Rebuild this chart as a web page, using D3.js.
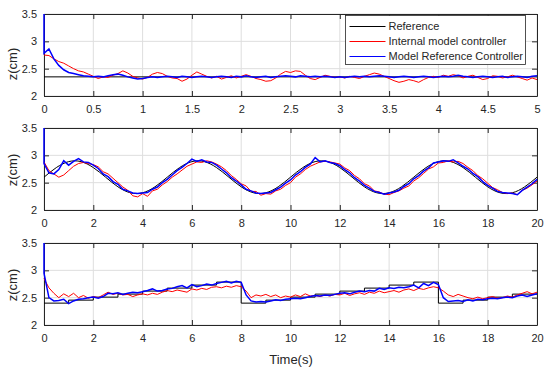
<!DOCTYPE html>
<html>
<head>
<meta charset="utf-8">
<script src="https://cdn.jsdelivr.net/npm/d3@7"></script>
<style>
body { margin: 0; background: #fff; }
text { font-family: "Liberation Sans", Arial, sans-serif; }
</style>
</head>
<body>
<div class="chart"></div>
<script>
// tick values
var xTicksTop = [0, 0.5, 1, 1.5, 2, 2.5, 3, 3.5, 4, 4.5, 5];
var xTicksLong = [0, 2, 4, 6, 8, 10, 12, 14, 16, 18, 20];
var yTicks = [2, 2.5, 3, 3.5];

var seriesNames = [`Reference`, `Internal model controller`, `Model Reference Controller`];

// first sample of the blue controller (initial spike at t=0)
var blueSpike = 3.5;

// panel 1: constant reference, 0..5 s, sampled every 0.05 s
var refTopT = [0, 5];
var refTopV = [2.35, 2.35];
var redTop = [
    2.75, 2.74, 2.68, 2.63, 2.60, 2.55, 2.50, 2.46, 2.44, 2.40,
    2.36, 2.32, 2.35, 2.34, 2.38, 2.41, 2.46, 2.42, 2.36, 2.33,
    2.31, 2.34, 2.40, 2.43, 2.41, 2.36, 2.33, 2.32, 2.27, 2.31,
    2.38, 2.44, 2.40, 2.36, 2.33, 2.36, 2.31, 2.34, 2.37, 2.33,
    2.36, 2.39, 2.36, 2.32, 2.30, 2.27, 2.28, 2.33, 2.40, 2.45,
    2.43, 2.46, 2.45, 2.38, 2.32, 2.30, 2.34, 2.38, 2.36, 2.34,
    2.35, 2.33, 2.36, 2.34, 2.32, 2.36, 2.39, 2.42, 2.40, 2.36,
    2.32, 2.28, 2.25, 2.27, 2.30, 2.28, 2.25, 2.30, 2.34, 2.36,
    2.34, 2.38, 2.36, 2.39, 2.37, 2.33, 2.36, 2.38, 2.34, 2.30,
    2.32, 2.37, 2.36, 2.33, 2.35, 2.38, 2.35, 2.32, 2.29, 2.33,
    2.30];
var blueTop = [
    2.78, 2.86, 2.68, 2.56, 2.48, 2.43, 2.41, 2.39, 2.37, 2.36,
    2.35, 2.36, 2.35, 2.37, 2.39, 2.40, 2.38, 2.35, 2.33, 2.31,
    2.32, 2.34, 2.35, 2.34, 2.35, 2.36, 2.35, 2.34, 2.36, 2.35,
    2.34, 2.35, 2.36, 2.35, 2.34, 2.35, 2.36, 2.35, 2.34, 2.36,
    2.35, 2.37, 2.35, 2.34, 2.35, 2.36, 2.34, 2.35, 2.36, 2.37,
    2.36, 2.35, 2.37, 2.36, 2.35, 2.36, 2.35, 2.36, 2.35, 2.34,
    2.35, 2.34, 2.35, 2.36, 2.35, 2.36, 2.35, 2.36, 2.37, 2.36,
    2.35, 2.34, 2.35, 2.36, 2.35, 2.34, 2.35, 2.36, 2.35, 2.34,
    2.35, 2.36, 2.35, 2.36, 2.38, 2.36, 2.35, 2.34, 2.35, 2.36,
    2.35, 2.34, 2.35, 2.36, 2.34, 2.35, 2.36, 2.35, 2.34, 2.36,
    2.37];

// panel 2: sinusoidal reference every 0.5 s, responses every 0.2 s
var refMidV = [
    2.600, 2.776, 2.885, 2.885, 2.776, 2.600, 2.424, 2.315, 2.315, 2.424,
    2.600, 2.776, 2.885, 2.885, 2.776, 2.600, 2.424, 2.315, 2.315, 2.424,
    2.600, 2.776, 2.885, 2.885, 2.776, 2.600, 2.424, 2.315, 2.315, 2.424,
    2.600, 2.776, 2.885, 2.885, 2.776, 2.600, 2.424, 2.315, 2.315, 2.424,
    2.600];
var redMid = [
    2.88, 2.72, 2.66, 2.60, 2.64, 2.72, 2.80, 2.85, 2.87, 2.85,
    2.83, 2.79, 2.70, 2.66, 2.58, 2.50, 2.42, 2.36, 2.26, 2.24,
    2.30, 2.25, 2.35, 2.38, 2.46, 2.52, 2.60, 2.66, 2.73, 2.80,
    2.84, 2.88, 2.87, 2.90, 2.88, 2.84, 2.79, 2.72, 2.63, 2.56,
    2.48, 2.44, 2.34, 2.34, 2.27, 2.30, 2.29, 2.35, 2.38, 2.45,
    2.50, 2.60, 2.66, 2.74, 2.80, 2.84, 2.88, 2.89, 2.88, 2.86,
    2.84, 2.77, 2.72, 2.63, 2.57, 2.48, 2.44, 2.35, 2.33, 2.29,
    2.28, 2.32, 2.35, 2.40, 2.44, 2.53, 2.59, 2.67, 2.75, 2.79,
    2.86, 2.87, 2.90, 2.88, 2.89, 2.85, 2.78, 2.72, 2.63, 2.57,
    2.49, 2.41, 2.37, 2.32, 2.30, 2.31, 2.28, 2.36, 2.40, 2.46,
    2.53];
var blueMid = [
    2.85, 2.68, 2.66, 2.74, 2.90, 2.82, 2.89, 2.94, 2.88, 2.87,
    2.82, 2.76, 2.66, 2.61, 2.52, 2.47, 2.38, 2.35, 2.31, 2.30,
    2.31, 2.32, 2.38, 2.42, 2.50, 2.56, 2.64, 2.72, 2.78, 2.85,
    2.93, 2.89, 2.92, 2.88, 2.87, 2.82, 2.75, 2.68, 2.59, 2.53,
    2.46, 2.38, 2.35, 2.31, 2.30, 2.31, 2.32, 2.37, 2.42, 2.49,
    2.55, 2.64, 2.70, 2.78, 2.84, 2.96, 2.88, 2.90, 2.87, 2.85,
    2.81, 2.74, 2.68, 2.59, 2.53, 2.45, 2.40, 2.34, 2.32, 2.29,
    2.31, 2.33, 2.36, 2.43, 2.48, 2.57, 2.63, 2.71, 2.77, 2.86,
    2.88, 2.90, 2.89, 2.92, 2.86, 2.80, 2.75, 2.67, 2.61, 2.52,
    2.45, 2.40, 2.34, 2.32, 2.31, 2.30, 2.28, 2.36, 2.42, 2.48,
    2.56];

// panel 3: staircase reference, responses every 0.2 s
var refBotT = [0, 1, 2, 3, 4, 5, 6, 7, 8, 9, 10, 11, 12, 13, 14, 15, 16, 17, 18, 19, 20];
var refBotV = [2.4, 2.455, 2.51, 2.565, 2.62, 2.675, 2.73, 2.785,
    2.4, 2.455, 2.51, 2.565, 2.62, 2.675, 2.73, 2.785,
    2.4, 2.455, 2.51, 2.565, 2.565];
var redBot = [
    2.85, 2.68, 2.58, 2.50, 2.57, 2.52, 2.58, 2.50, 2.54, 2.49,
    2.52, 2.50, 2.55, 2.60, 2.56, 2.58, 2.55, 2.56, 2.52, 2.55,
    2.57, 2.55, 2.58, 2.56, 2.60, 2.63, 2.61, 2.64, 2.62, 2.60,
    2.66, 2.64, 2.67, 2.65, 2.69, 2.70, 2.68, 2.71, 2.69, 2.72,
    2.70, 2.62, 2.50, 2.55, 2.53, 2.56, 2.52, 2.55, 2.50, 2.53,
    2.51, 2.55, 2.52, 2.57, 2.53, 2.54, 2.52, 2.55, 2.53, 2.56,
    2.55, 2.58, 2.54, 2.57, 2.59, 2.56, 2.60, 2.58, 2.62, 2.59,
    2.61, 2.63, 2.60, 2.64, 2.66, 2.63, 2.67, 2.65, 2.68, 2.70,
    2.68, 2.62, 2.55, 2.52, 2.56, 2.53, 2.50, 2.48, 2.51, 2.48,
    2.50, 2.52, 2.49, 2.50, 2.53, 2.51, 2.55, 2.58, 2.61, 2.57,
    2.60];
var blueBot = [
    2.95, 2.50, 2.44, 2.45, 2.47, 2.39, 2.44, 2.47, 2.48, 2.50,
    2.51, 2.49, 2.52, 2.58, 2.57, 2.59, 2.56, 2.58, 2.60, 2.59,
    2.61, 2.63, 2.66, 2.62, 2.63, 2.66, 2.67, 2.70, 2.72, 2.68,
    2.74, 2.70, 2.72, 2.75, 2.73, 2.76, 2.78, 2.80, 2.77, 2.80,
    2.78, 2.55, 2.44, 2.42, 2.43, 2.42, 2.44, 2.46, 2.45, 2.47,
    2.48, 2.49, 2.48, 2.50, 2.52, 2.54, 2.53, 2.55, 2.54, 2.56,
    2.58, 2.59, 2.57, 2.60, 2.62, 2.61, 2.63, 2.62, 2.67, 2.65,
    2.68, 2.67, 2.69, 2.68, 2.70, 2.73, 2.68, 2.76, 2.72, 2.78,
    2.74, 2.50, 2.43, 2.44, 2.45, 2.43, 2.46, 2.44, 2.47, 2.46,
    2.48, 2.49, 2.48, 2.50, 2.51, 2.50, 2.53, 2.55, 2.52, 2.55,
    2.57];

var width = 550, height = 369;
var plotLeft = 44, plotW = 493, plotH = 82;
var ink = `#262626`;

var svg = d3.select(`.chart`)
    .append(`svg`)
    .attr(`width`, width)
    .attr(`height`, height);

var panels = [
    {top: 14, xMax: 5, xTicks: xTicksTop, dt: 0.05, red: redTop, blue: blueTop,
        ref: refTopT.map((t, i) => [t, refTopV[i]]), curve: d3.curveLinear, labelY: 64},
    {top: 128, xMax: 20, xTicks: xTicksLong, dt: 0.2, red: redMid, blue: blueMid,
        ref: refMidV.map((v, i) => [i * 0.5, v]), curve: d3.curveNatural, labelY: 170},
    {top: 243, xMax: 20, xTicks: xTicksLong, dt: 0.2, red: redBot, blue: blueBot,
        ref: refBotT.map((t, i) => [t, refBotV[i]]), curve: d3.curveStepAfter, labelY: 285}
];

var fmt = d3.format(`~g`);

panels.forEach(function(p, k) {
    var x = d3.scaleLinear().domain([0, p.xMax]).range([0, plotW]);
    var y = d3.scaleLinear().domain([2, 3.5]).range([plotH, 0]);

    var g = svg.append(`g`)
        .attr(`transform`, `translate(${plotLeft},${p.top})`);

    g.append(`clipPath`)
        .attr(`id`, `clip${k}`)
        .append(`rect`)
        .attr(`x`, -1).attr(`y`, -1)
        .attr(`width`, plotW + 2)
        .attr(`height`, plotH + 2);

    // grid
    g.selectAll(`.gx`)
        .data(p.xTicks)
        .enter().append(`line`)
        .attr(`x1`, d => x(d)).attr(`x2`, d => x(d))
        .attr(`y1`, 0).attr(`y2`, plotH)
        .attr(`stroke`, `#dedede`);
    g.selectAll(`.gy`)
        .data(yTicks)
        .enter().append(`line`)
        .attr(`x1`, 0).attr(`x2`, plotW)
        .attr(`y1`, d => y(d)).attr(`y2`, d => y(d))
        .attr(`stroke`, `#dedede`);

    // axes, ticks pointing inward on all four sides
    var axes = [
        g.append(`g`).attr(`transform`, `translate(0,${plotH})`)
            .call(d3.axisBottom(x).tickValues(p.xTicks).tickFormat(fmt).tickSizeInner(-5).tickSizeOuter(0).tickPadding(9)),
        g.append(`g`)
            .call(d3.axisLeft(y).tickValues(yTicks).tickFormat(fmt).tickSizeInner(-5).tickSizeOuter(0).tickPadding(7)),
        g.append(`g`)
            .call(d3.axisTop(x).tickValues(p.xTicks).tickFormat(``).tickSizeInner(-5).tickSizeOuter(0)),
        g.append(`g`).attr(`transform`, `translate(${plotW},0)`)
            .call(d3.axisRight(y).tickValues(yTicks).tickFormat(``).tickSizeInner(-5).tickSizeOuter(0))
    ];
    axes.forEach(function(a) {
        a.attr(`font-size`, 11).attr(`font-family`, `"Liberation Sans", Arial, sans-serif`);
        a.selectAll(`path, line`).attr(`stroke`, ink);
        a.selectAll(`text`).attr(`fill`, ink);
    });

    var line = d3.line()
        .x(d => x(d[0]))
        .y(d => y(d[1]));

    var lines = g.append(`g`).attr(`clip-path`, `url(#clip${k})`);

    lines.append(`path`)
        .datum(p.ref)
        .attr(`d`, line.curve(p.curve))
        .attr(`fill`, `none`)
        .attr(`stroke`, `#000`)
        .attr(`stroke-width`, 1);

    line.curve(d3.curveLinear);

    lines.append(`path`)
        .datum(p.red.map((v, i) => [i * p.dt, v]))
        .attr(`d`, line)
        .attr(`fill`, `none`)
        .attr(`stroke`, `#ff0000`)
        .attr(`stroke-width`, 1);

    lines.append(`path`)
        .datum([[0, blueSpike]].concat(p.blue.map((v, i) => [i * p.dt, v])))
        .attr(`d`, line)
        .attr(`fill`, `none`)
        .attr(`stroke`, `#0000ff`)
        .attr(`stroke-width`, 1.5);

    svg.append(`text`)
        .attr(`transform`, `translate(12,${p.labelY}) rotate(-90)`)
        .attr(`text-anchor`, `middle`)
        .attr(`dy`, `0.35em`)
        .attr(`font-size`, 13)
        .attr(`fill`, ink)
        .text(`z(cm)`);
});

svg.append(`text`)
    .attr(`x`, 291)
    .attr(`y`, 364)
    .attr(`text-anchor`, `middle`)
    .attr(`font-size`, 13)
    .attr(`fill`, ink)
    .text(`Time(s)`);

// legend
var legendColors = {
    [seriesNames[0]]: `#000000`,
    [seriesNames[1]]: `#ff0000`,
    [seriesNames[2]]: `#0000ff`
};

var legend = svg.append(`g`).attr(`transform`, `translate(345.5,15.5)`);
legend.append(`rect`)
    .attr(`width`, 180)
    .attr(`height`, 49)
    .attr(`fill`, `#fff`)
    .attr(`stroke`, ink)
    .attr(`stroke-width`, 0.8);

var rows = legend.selectAll(`.row`)
    .data(seriesNames)
    .enter().append(`g`)
    .attr(`transform`, (d, i) => `translate(0,${11 + i * 15})`);
rows.append(`line`)
    .attr(`x1`, 4).attr(`x2`, 40)
    .style(`stroke`, d => legendColors[d])
    .style(`stroke-width`, 1);
rows.append(`text`)
    .attr(`x`, 43)
    .attr(`dy`, `0.35em`)
    .attr(`font-size`, 11)
    .attr(`fill`, ink)
    .text(d => d);
</script>
</body>
</html>
